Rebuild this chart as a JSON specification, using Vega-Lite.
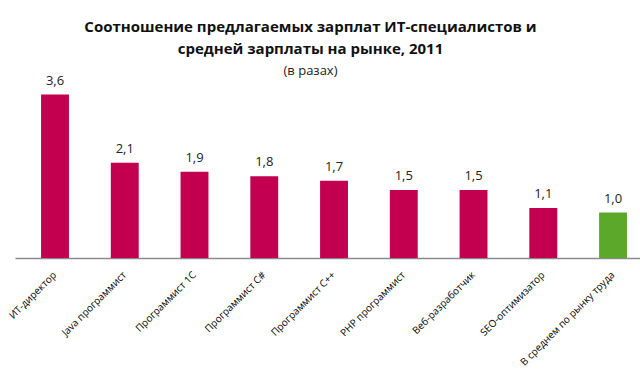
{
  "$schema": "https://vega.github.io/schema/vega-lite/v6.json",
  "width": 625,
  "height": 168,
  "autosize": {"type": "none"},
  "padding": {"left": 15, "top": 90, "right": 0, "bottom": 114},
  "background": "white",
  "config": {
    "view": {"stroke": null},
    "font": "Open Sans",
    "locale": {"number": {"decimal": ",", "thousands": " ", "grouping": [3], "currency": ["", ""]}}
  },
  "title": {
    "text": ["Соотношение предлагаемых зарплат ИТ-специалистов и", "средней зарплаты на рынке, 2011"],
    "subtitle": "(в разах)",
    "font": "Open Sans",
    "fontSize": 15,
    "fontWeight": "bold",
    "lineHeight": 22,
    "color": "#111111",
    "subtitleFont": "Open Sans",
    "subtitleFontSize": 13,
    "subtitleColor": "#222222",
    "subtitlePadding": 8,
    "anchor": "middle",
    "dx": -17,
    "offset": -3
  },
  "data": {
    "values": [
      {"job": "ИТ-директор", "ratio": 3.6, "group": "spec"},
      {"job": "Java программист", "ratio": 2.1, "group": "spec"},
      {"job": "Программист 1С", "ratio": 1.9, "group": "spec"},
      {"job": "Программист C#", "ratio": 1.8, "group": "spec"},
      {"job": "Программист С++", "ratio": 1.7, "group": "spec"},
      {"job": "PHP программист", "ratio": 1.5, "group": "spec"},
      {"job": "Веб-разработчик", "ratio": 1.5, "group": "spec"},
      {"job": "SEO-оптимизатор", "ratio": 1.1, "group": "spec"},
      {"job": "В среднем по рынку труда", "ratio": 1.0, "group": "avg"}
    ]
  },
  "encoding": {
    "x": {
      "field": "job",
      "type": "nominal",
      "sort": null,
      "scale": {"paddingInner": 0.6, "paddingOuter": 0.28, "align": 0.667},
      "axis": {
        "title": null,
        "labelAngle": -45,
        "labelAlign": "right",
        "labelBaseline": "middle",
        "labelFont": "Open Sans",
        "labelFontSize": 10,
        "labelColor": "#000000",
        "labelPadding": 15,
        "labelLimit": 200,
        "ticks": false,
        "domainColor": "#8a8a8a",
        "domainWidth": 1.5
      }
    },
    "y": {
      "field": "ratio",
      "type": "quantitative",
      "scale": {"domain": [0, 3.7]},
      "axis": null
    }
  },
  "layer": [
    {
      "mark": {"type": "bar"},
      "encoding": {
        "color": {
          "field": "group",
          "type": "nominal",
          "scale": {"domain": ["spec", "avg"], "range": ["#C2004F", "#5CA82B"]},
          "legend": null
        }
      }
    },
    {
      "mark": {"type": "text", "dy": -7, "fontSize": 13, "font": "Open Sans", "color": "#222222", "baseline": "bottom"},
      "encoding": {
        "text": {"field": "ratio", "type": "quantitative", "format": ".1f"}
      }
    }
  ]
}
